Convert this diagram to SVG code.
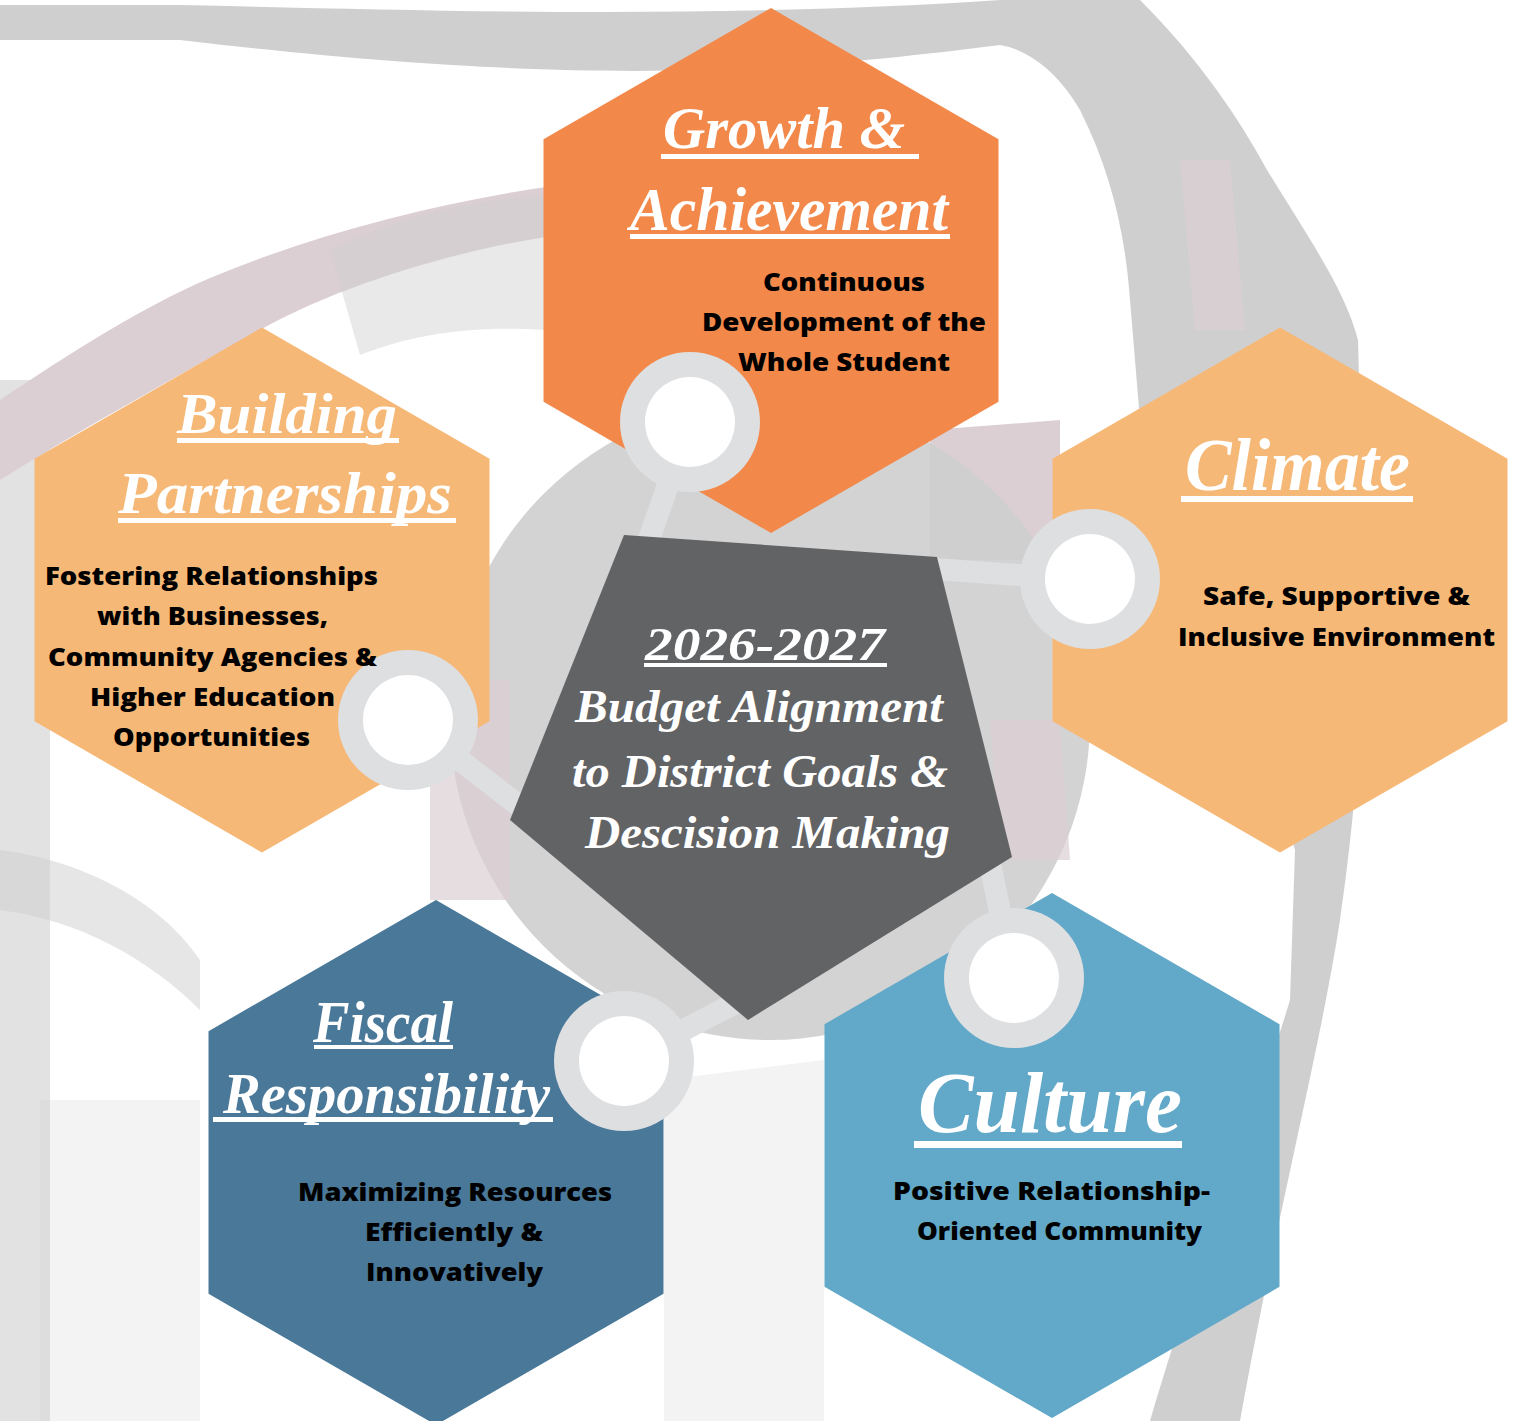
<svg xmlns="http://www.w3.org/2000/svg" width="1537" height="1421" viewBox="0 0 1537 1421">
<defs>
<style>
.bgG{fill:#CACACA}
.bgP{fill:#D9CAD0}
.hex{stroke:none}
.stem{stroke:#DEDFE1;stroke-width:22;stroke-linecap:butt;fill:none}
.ring{fill:#DEDFE1}
.hole{fill:#FFFFFF}
.title{font-family:"Liberation Serif","DejaVu Serif",serif;font-style:italic;font-weight:700;fill:#FFFFFF}
.ul{fill:#FFFFFF}
.body{font-family:"Open Sans","Noto Sans","Liberation Sans",sans-serif;font-weight:800;font-size:25px;fill:#000000}
</style>
</defs>
<rect x="0" y="0" width="1537" height="1421" fill="#FFFFFF"/>
<g id="background" opacity="0.9">
<path class="bgG" d="M0,5 L180,5 C420,10 700,20 1000,0 L1140,0 C1200,60 1240,120 1267,170 C1310,240 1345,290 1358,340 L1365,600 C1362,750 1350,850 1340,920 C1320,1050 1280,1200 1240,1421 L1150,1421 C1200,1250 1260,1100 1290,1000 L1295,850 C1250,700 1170,550 1140,420 L1130,300 C1125,230 1110,170 1080,110 C1060,75 1030,50 1000,45 C800,70 600,90 180,40 L0,40 Z"/>
<path class="bgG" d="M0,380 L50,380 L50,1421 L0,1421 Z" opacity="0.6"/>
<path class="bgP" d="M0,400 C60,360 150,300 230,270 C330,230 450,200 560,185 L560,235 C450,250 330,290 260,330 C170,380 80,430 0,480 Z"/>
<path class="bgP" d="M1180,160 L1230,160 L1245,330 L1195,330 Z" opacity="0.7"/>
<path class="bgP" d="M930,430 L1060,420 L1060,560 L930,560 Z"/>
<ellipse class="bgG" cx="770" cy="720" rx="320" ry="320" opacity="0.9"/>
<path class="bgP" d="M430,680 L510,680 L510,900 L430,900 Z" opacity="0.7"/>
<path class="bgP" d="M990,720 L1060,720 L1070,860 L1000,860 Z" opacity="0.7"/>
<path class="bgG" d="M0,850 C80,860 160,900 200,960 L200,1010 C150,960 80,920 0,910 Z" opacity="0.5"/>
<path class="bgG" d="M40,1100 L200,1100 L200,1421 L40,1421 Z" opacity="0.25"/>
<path class="bgG" d="M664,1080 L824,1060 L824,1421 L664,1421 Z" opacity="0.25"/>
<path class="bgG" d="M330,250 C400,215 470,200 545,195 L545,330 C470,325 410,335 360,355 Z" opacity="0.45"/>
</g>
<g id="node-growth">
<polygon class="hex" fill="#F2894A" points="771,8 998.5,139.2 998.5,401.8 771,533 543.5,401.8 543.5,139.2"/>
</g>
<g id="node-partnerships">
<polygon class="hex" fill="#F6B877" points="262,327.5 489.5,458.7 489.5,721.3 262,852.5 34.5,721.3 34.5,458.7"/>
</g>
<g id="node-climate">
<polygon class="hex" fill="#F6B877" points="1280,327.5 1507.5,458.7 1507.5,721.3 1280,852.5 1052.5,721.3 1052.5,458.7"/>
</g>
<g id="node-fiscal">
<polygon class="hex" fill="#4A7899" points="436,900 663.5,1031.2 663.5,1293.8 436,1425 208.5,1293.8 208.5,1031.2"/>
</g>
<g id="node-culture">
<polygon class="hex" fill="#62A8C8" points="1052,893 1279.5,1024.2 1279.5,1286.8 1052,1418 824.5,1286.8 824.5,1024.2"/>
</g>
<g id="connectors">
<line class="stem" x1="690" y1="422" x2="640" y2="565"/>
<line class="stem" x1="1090" y1="580" x2="920" y2="568"/>
<line class="stem" x1="408" y1="720" x2="540" y2="822"/>
<line class="stem" x1="1014" y1="978" x2="985" y2="840"/>
<line class="stem" x1="624" y1="1061" x2="770" y2="985"/>
</g>
<g id="node-center">
<polygon fill="#626365" points="624,535 937,557 1012,857 748,1020 510,820"/>
</g>
<g id="connector-rings">
<circle class="ring" cx="690" cy="422" r="70"/><circle class="hole" cx="690" cy="422" r="45"/>
<circle class="ring" cx="1090" cy="579" r="70"/><circle class="hole" cx="1090" cy="579" r="45"/>
<circle class="ring" cx="408" cy="720" r="70"/><circle class="hole" cx="408" cy="720" r="45"/>
<circle class="ring" cx="1014" cy="978" r="70"/><circle class="hole" cx="1014" cy="978" r="45"/>
<circle class="ring" cx="624" cy="1061" r="70"/><circle class="hole" cx="624" cy="1061" r="45"/>
</g>
<g id="text-growth">
<text class="title" x="663" y="148" font-size="60" textLength="242" lengthAdjust="spacingAndGlyphs">Growth &amp;</text>
<rect class="ul" x="661" y="154" width="258" height="5"/>
<text class="title" x="630" y="230" font-size="62" textLength="318" lengthAdjust="spacingAndGlyphs">Achievement</text>
<rect class="ul" x="630" y="234" width="320" height="5"/>
<text class="body" x="763" y="291" textLength="162" lengthAdjust="spacingAndGlyphs">Continuous</text>
<text class="body" x="702" y="331" textLength="284" lengthAdjust="spacingAndGlyphs">Development of the</text>
<text class="body" x="738" y="371" textLength="212" lengthAdjust="spacingAndGlyphs">Whole Student</text>
</g>
<g id="text-partnerships">
<text class="title" x="177" y="433" font-size="58" textLength="220" lengthAdjust="spacingAndGlyphs">Building</text>
<rect class="ul" x="177" y="438" width="222" height="5"/>
<text class="title" x="118" y="513" font-size="60" textLength="334" lengthAdjust="spacingAndGlyphs">Partnerships</text>
<rect class="ul" x="118" y="518" width="338" height="5"/>
<text class="body" x="45" y="585" textLength="333" lengthAdjust="spacingAndGlyphs">Fostering Relationships</text>
<text class="body" x="97" y="625" textLength="231" lengthAdjust="spacingAndGlyphs">with Businesses,</text>
<text class="body" x="48" y="666" textLength="329" lengthAdjust="spacingAndGlyphs">Community Agencies &amp;</text>
<text class="body" x="90" y="706" textLength="245" lengthAdjust="spacingAndGlyphs">Higher Education</text>
<text class="body" x="113" y="746" textLength="197" lengthAdjust="spacingAndGlyphs">Opportunities</text>
</g>
<g id="text-climate">
<text class="title" x="1185" y="490" font-size="74" textLength="225" lengthAdjust="spacingAndGlyphs">Climate</text>
<rect class="ul" x="1181" y="496" width="232" height="6"/>
<text class="body" x="1203" y="605" textLength="267" lengthAdjust="spacingAndGlyphs">Safe, Supportive &amp;</text>
<text class="body" x="1178" y="646" textLength="317" lengthAdjust="spacingAndGlyphs">Inclusive Environment</text>
</g>
<g id="text-fiscal">
<text class="title" x="313" y="1042" font-size="60" textLength="140" lengthAdjust="spacingAndGlyphs">Fiscal</text>
<rect class="ul" x="314" y="1045" width="139" height="4"/>
<text class="title" x="223" y="1113" font-size="56" textLength="327" lengthAdjust="spacingAndGlyphs">Responsibility</text>
<rect class="ul" x="213" y="1117" width="340" height="5"/>
<text class="body" x="298" y="1201" textLength="314" lengthAdjust="spacingAndGlyphs">Maximizing Resources</text>
<text class="body" x="365" y="1241" textLength="178" lengthAdjust="spacingAndGlyphs">Efficiently &amp;</text>
<text class="body" x="366" y="1281" textLength="177" lengthAdjust="spacingAndGlyphs">Innovatively</text>
</g>
<g id="text-culture">
<text class="title" x="918" y="1132" font-size="86" textLength="264" lengthAdjust="spacingAndGlyphs">Culture</text>
<rect class="ul" x="914" y="1141" width="268" height="7"/>
<text class="body" x="893" y="1200" textLength="317" lengthAdjust="spacingAndGlyphs">Positive Relationship-</text>
<text class="body" x="917" y="1240" textLength="285" lengthAdjust="spacingAndGlyphs">Oriented Community</text>
</g>
<g id="text-center">
<text class="title" x="645" y="660" font-size="46" font-weight="400" textLength="240" lengthAdjust="spacingAndGlyphs">2026-2027</text>
<rect class="ul" x="644" y="663" width="243" height="4"/>
<text class="title" x="575" y="722" font-size="46" textLength="368" lengthAdjust="spacingAndGlyphs">Budget Alignment</text>
<text class="title" x="572" y="787" font-size="46" textLength="376" lengthAdjust="spacingAndGlyphs">to District Goals &amp;</text>
<text class="title" x="585" y="848" font-size="46" textLength="365" lengthAdjust="spacingAndGlyphs">Descision Making</text>
</g>
</svg>
